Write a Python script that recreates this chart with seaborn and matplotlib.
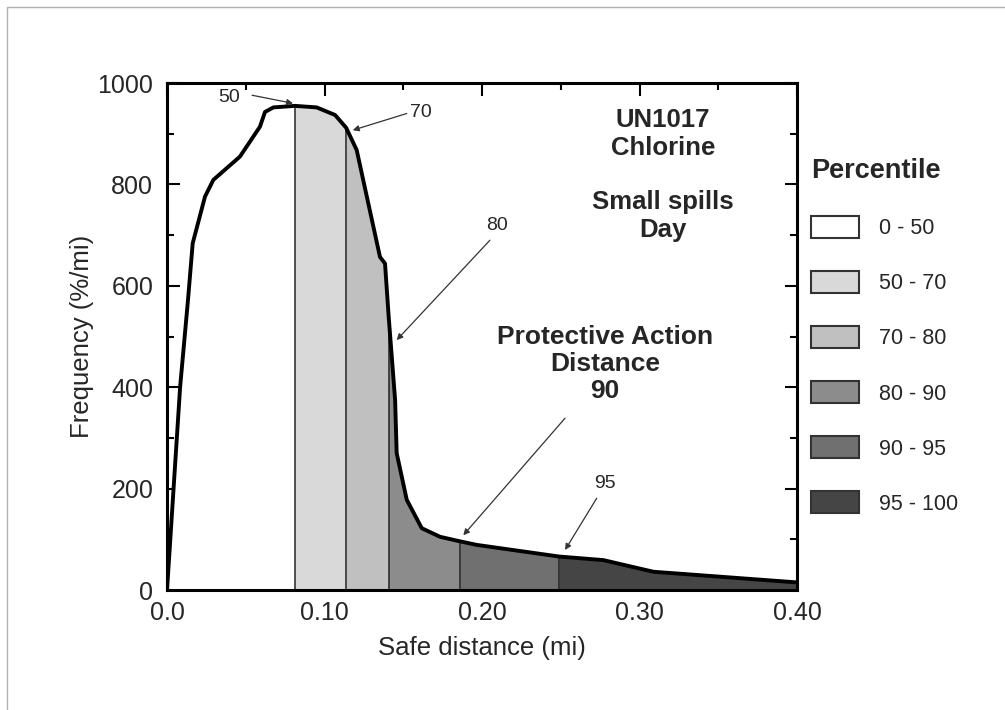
import numpy as np
import pandas as pd
import seaborn as sns
import matplotlib.pyplot as plt
from matplotlib.patches import Patch
from matplotlib.lines import Line2D
from matplotlib.ticker import MultipleLocator

# Curve (safe distance in mi, frequency in %/mi)
distance = [0.0, 0.0083, 0.0133, 0.0163, 0.0241, 0.0294, 0.0463, 0.059, 0.0622,
            0.0675, 0.0813, 0.095, 0.1067, 0.1137, 0.1204, 0.1352, 0.1384,
            0.1407, 0.1448, 0.1458, 0.1522, 0.1617, 0.1733, 0.186, 0.1966,
            0.249, 0.277, 0.3088, 0.40]
frequency = [0, 400, 572, 684, 776, 809, 855, 914, 943,
             952, 955, 952, 937, 912, 868, 657, 644,
             540, 375, 270, 178, 122, 105, 96, 89,
             66, 59, 36, 15]

# Percentile bands
pct_bounds = [0.0, 0.0813, 0.1137, 0.1407, 0.186, 0.249, 0.40]
pct_labels = ['0 - 50', '50 - 70', '70 - 80', '80 - 90', '90 - 95', '95 - 100']
pct_colors = ['#ffffff', '#d9d9d9', '#c0c0c0', '#8c8c8c', '#707070', '#454545']

x_ticks = [0.0, 0.1, 0.2, 0.3, 0.4]
x_ticklabels = ['0.0', '0.10', '0.20', '0.30', '0.40']
y_ticks = [0, 200, 400, 600, 800, 1000]

df = pd.DataFrame({'distance': distance, 'frequency': frequency})

sns.set_style('ticks')
plt.rcParams['font.family'] = ['Liberation Sans', 'DejaVu Sans']

fig = plt.figure(figsize=(10.05, 7.1), dpi=100)
ax = fig.add_axes([0.1662, 0.169, 0.6269, 0.714])

x = df['distance'].to_numpy()
y = df['frequency'].to_numpy()

# shaded percentile bands under the curve
for lo, hi, c in zip(pct_bounds[:-1], pct_bounds[1:], pct_colors):
    m = (x >= lo) & (x <= hi)
    ax.fill_between(x[m], y[m], color=c, lw=0, zorder=1)

# boundary lines between bands
for b in pct_bounds[1:-1]:
    ax.vlines(b, 0, y[x == b][0], color='#222222', lw=1.1, zorder=2)

sns.lineplot(data=df, x='distance', y='frequency', color='black', lw=2.8,
             ax=ax, zorder=3)

ax.set_xlim(0, 0.40)
ax.set_ylim(0, 1000)
ax.set_xticks(x_ticks)
ax.set_xticklabels(x_ticklabels)
ax.set_yticks(y_ticks)
ax.xaxis.set_minor_locator(MultipleLocator(0.05))
ax.yaxis.set_minor_locator(MultipleLocator(100))
ax.tick_params(which='both', direction='in', top=True, right=True, width=1.5,
               labelsize=18, color='black')
ax.tick_params(axis='x', pad=8)
ax.tick_params(axis='y', pad=10)
ax.tick_params(which='major', length=9)
ax.tick_params(which='minor', length=5)
for s in ax.spines.values():
    s.set_linewidth(2.2)
    s.set_color('black')
ax.set_xlabel('Safe distance (mi)', fontsize=18.5, labelpad=8)
ax.set_ylabel('Frequency (%/mi)', fontsize=18.5, labelpad=2)

# percentile annotations
arrow = dict(arrowstyle='-|>', color='#333333', lw=0.9, mutation_scale=9,
             shrinkA=0, shrinkB=0)
ax.annotate('', xy=(0.080, 960), xytext=(0.054, 976), arrowprops=arrow)
ax.text(0.0394, 972, '50', fontsize=14, ha='center', va='center')
ax.annotate('', xy=(0.1179, 907), xytext=(0.1522, 940), arrowprops=arrow)
ax.text(0.161, 941, '70', fontsize=14, ha='center', va='center')
ax.annotate('', xy=(0.1458, 493), xytext=(0.205, 690), arrowprops=arrow)
ax.text(0.2095, 720, '80', fontsize=14, ha='center', va='center')
ax.annotate('', xy=(0.1881, 108), xytext=(0.2527, 339), arrowprops=arrow)
ax.annotate('', xy=(0.2527, 79), xytext=(0.2728, 181), arrowprops=arrow)
ax.text(0.278, 211, '95', fontsize=14, ha='center', va='center')

ax.text(0.315, 899, 'UN1017\nChlorine', fontsize=18.5, fontweight='bold',
        ha='center', va='center', linespacing=1.2)
ax.text(0.315, 738, 'Small spills\nDay', fontsize=18.5, fontweight='bold',
        ha='center', va='center', linespacing=1.2)
ax.text(0.278, 446, 'Protective Action\nDistance\n90', fontsize=19,
        fontweight='bold', ha='center', va='center', linespacing=1.15)

# legend
handles = [Patch(facecolor=c, edgecolor='#333333', lw=1.5) for c in pct_colors]
leg = fig.legend(handles, pct_labels, loc='upper left',
                 bbox_to_anchor=(0.807, 0.777), frameon=False,
                 title='Percentile', alignment='left',
                 title_fontproperties={'weight': 'bold', 'size': 19.5},
                 prop={'size': 15.5}, handlelength=2.25, handleheight=1.2,
                 labelspacing=1.475, handletextpad=0.9, borderpad=0,
                 borderaxespad=0)

# thin frame lines along top and left edges
fig.add_artist(Line2D([0.007, 1.0], [0.990, 0.990], transform=fig.transFigure,
                      color='#b0b0b0', lw=1))
fig.add_artist(Line2D([0.007, 0.007], [0.0, 0.990], transform=fig.transFigure,
                      color='#b0b0b0', lw=1))

fig.savefig('out.png', dpi=100)
